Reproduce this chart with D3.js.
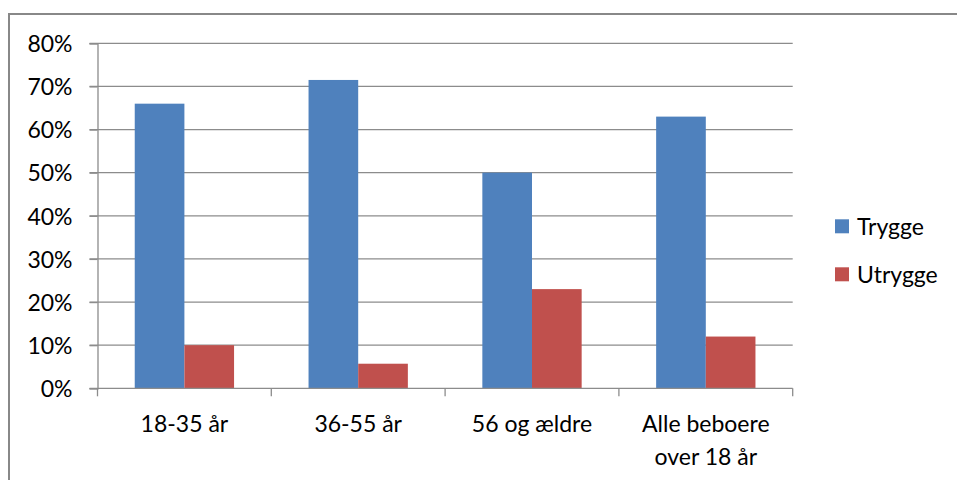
<!DOCTYPE html>
<html>
<head>
<meta charset="utf-8">
<script src="https://cdn.jsdelivr.net/npm/d3@7/dist/d3.min.js"></script>
<style>
  html, body { margin: 0; padding: 0; background: #fff; }
  svg { display: block; }
  text { font-family: Lato, "Open Sans", sans-serif; fill: #000; }
</style>
</head>
<body>
<svg id="chart" width="957" height="480"></svg>
<script>
const categories = [["18-35 år"], ["36-55 år"], ["56 og ældre"], ["Alle beboere", "over 18 år"]];
const seriesNames = ["Trygge", "Utrygge"];
const trygge = [0.66, 0.715, 0.50, 0.63];
const utrygge = [0.10, 0.057, 0.23, 0.12];
const yTicks = [0, 0.1, 0.2, 0.3, 0.4, 0.5, 0.6, 0.7, 0.8];
const colors = ["#4F81BD", "#C0504D"];

const seriesValues = [trygge, utrygge];
const svg = d3.select("#chart");
const fontSize = 23;

// outer border
svg.append("rect").attr("x", 9).attr("y", 14).attr("width", 960).attr("height", 480)
  .attr("fill", "none").attr("stroke", "#888").attr("stroke-width", 2);

const x0 = 97.5, x1 = 792.7, yBottom = 388.3, yTop = 43.3;
const catIdx = categories.map((d, i) => i);
const x = d3.scaleBand().domain(catIdx).range([x0, x1]).paddingInner(0).paddingOuter(0);
const y = d3.scaleLinear().domain([0, 0.8]).range([yBottom, yTop]);

// gridlines
const grid = svg.append("g");
grid.selectAll("line").data(yTicks.filter(t => t > 0)).join("line")
  .attr("x1", x0 - 8).attr("x2", x1)
  .attr("y1", d => y(d)).attr("y2", d => y(d))
  .attr("stroke", "#8c8c8c").attr("stroke-width", 1.3);

// bars
const groupWidth = x.bandwidth() / (1 + 1.5 / 2);
const inner = d3.scaleBand().domain(seriesNames).range([0, groupWidth]);
const off = (x.bandwidth() - groupWidth) / 2;
seriesNames.forEach((s, si) => {
  svg.append("g").selectAll("rect").data(seriesValues[si]).join("rect")
    .attr("x", (d, i) => x(i) + off + inner(s))
    .attr("width", inner.bandwidth())
    .attr("y", d => y(d))
    .attr("height", d => yBottom - y(d))
    .attr("fill", colors[si]);
});

// y axis
const yAxis = d3.axisLeft(y).tickValues(yTicks).tickSize(8).tickPadding(17)
  .tickFormat(d3.format(".0%"));
const ya = svg.append("g").attr("transform", `translate(${x0},0)`).call(yAxis);
ya.select(".domain").attr("stroke", "#8c8c8c").attr("stroke-width", 1.3);
ya.selectAll(".tick line").attr("stroke", "#8c8c8c").attr("stroke-width", 1.3);
ya.selectAll(".tick text").style("font-size", fontSize + "px").attr("font-family", null)
  .attr("dy", "0.36em");

// x axis
const xa = svg.append("g").attr("transform", `translate(0,${yBottom})`);
xa.append("line").attr("x1", x0 - 8).attr("x2", x1).attr("y1", 0).attr("y2", 0)
  .attr("stroke", "#8c8c8c").attr("stroke-width", 1.3);
const tickXs = catIdx.map(i => x(i)).concat([x1]);
xa.selectAll("line.t").data(tickXs).join("line").attr("class", "t")
  .attr("x1", d => d).attr("x2", d => d).attr("y1", 0).attr("y2", 8)
  .attr("stroke", "#8c8c8c").attr("stroke-width", 1.3);
const labels = xa.selectAll("text").data(categories).join("text")
  .attr("text-anchor", "middle")
  .style("font-size", fontSize + "px");
labels.each(function(lines, i) {
  const t = d3.select(this);
  lines.forEach((ln, j) => {
    t.append("tspan").attr("x", x(i) + x.bandwidth() / 2).attr("y", 43.5 + j * 33.3).text(ln);
  });
});

// legend
const legend = svg.append("g");
seriesNames.forEach((s, i) => {
  const gy = 219.3 + i * 48;
  legend.append("rect").attr("x", 835).attr("y", gy).attr("width", 14).attr("height", 14)
    .attr("fill", colors[i]);
  legend.append("text").attr("x", 857).attr("y", gy + 16)
    .style("font-size", fontSize + "px").text(s);
});
</script>
</body>
</html>
